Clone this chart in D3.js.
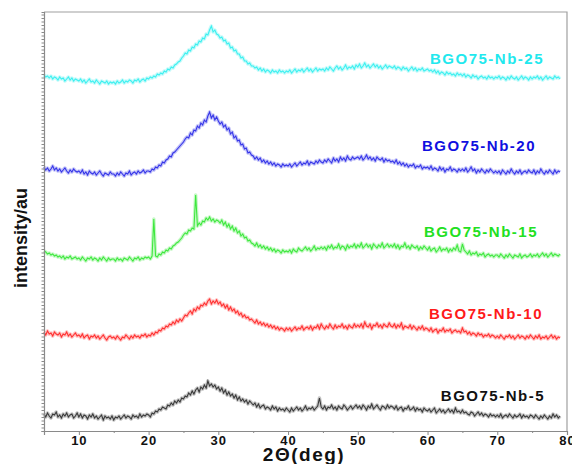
<!DOCTYPE html>
<html>
<head>
<meta charset="utf-8">
<script src="https://cdn.jsdelivr.net/npm/d3@7"></script>
<style>
  body { margin: 0; background: #fff; }
  svg { display: block; font-family: Arial, "Liberation Sans", sans-serif; }
</style>
</head>
<body>
<div id="chart"></div>
<script>
// 2θ sampling of the traces
const thetaStart = 5;
const thetaStep = 0.25;

// Intensity (a.u., above its own stacking offset)
const nb5 = [
  17,14,18,15,13,17,16,19,14,16,13,17,15,18,14,16,17,13,15,18,
  14,17,13,16,15,12,16,14,17,13,15,12,14,16,11,15,13,14,12,15,
  11,14,13,15,12,14,16,13,15,14,12,16,14,15,13,17,14,16,15,17,
  16,14,18,17,20,19,22,21,24,23,22,26,25,28,26,30,28,31,29,33,
  32,35,34,38,36,40,37,41,43,39,44,42,46,43,50,45,47,44,46,42,
  44,40,43,38,41,36,39,35,37,33,36,31,34,30,32,29,31,27,30,28,
  26,28,24,27,23,25,26,22,24,23,21,25,22,24,20,23,21,22,20,23,
  21,19,23,20,22,24,21,23,20,22,25,21,23,22,24,21,23,25,33,24,
  22,25,21,24,23,26,22,24,21,25,23,22,26,24,21,23,25,22,24,26,
  23,25,22,26,24,21,25,23,27,22,24,26,23,21,25,24,22,26,23,25,
  24,22,25,21,23,24,20,23,22,25,21,22,24,20,23,21,22,19,23,21,
  20,22,19,21,23,18,20,22,19,21,18,20,22,19,21,18,23,19,20,18,
  21,18,19,17,16,19,18,15,17,19,16,18,15,17,16,14,17,15,16,14,
  16,14,17,13,15,16,14,17,15,13,16,14,15,17,13,16,14,15,13,16,
  15,13,16,14,12,15,13,16,14,12,15,13,17,14,16,13,15
];
const nb10 = [
  19,16,20,17,18,15,19,17,16,18,14,17,16,19,15,17,14,16,18,15,
  16,14,17,13,15,16,12,15,14,16,13,15,12,14,16,13,11,14,15,13,
  14,12,15,13,11,14,13,16,14,12,15,13,16,14,15,13,16,15,17,14,
  16,15,18,16,19,18,21,20,23,22,25,24,27,26,29,27,31,29,32,30,
  33,36,35,38,40,37,42,40,44,42,46,45,48,46,50,52,47,50,48,51,
  47,49,45,47,43,46,41,44,40,42,38,40,36,38,34,36,33,34,31,32,
  30,28,31,27,29,26,28,25,27,24,26,23,25,22,24,21,23,22,20,23,
  21,23,20,22,24,21,23,22,25,21,23,24,22,25,21,24,23,26,22,27,
  24,22,25,23,27,24,22,26,23,25,24,27,23,25,22,26,24,23,27,24,
  26,24,27,23,29,25,24,27,22,26,25,28,24,26,23,27,25,24,28,25,
  24,27,23,26,24,28,22,25,24,23,26,22,25,23,21,24,22,25,21,23,
  22,20,23,19,21,22,18,21,20,23,19,21,20,22,18,20,21,19,20,18,
  23,19,20,17,19,16,18,17,15,18,16,17,14,16,15,17,14,16,15,13,
  15,13,16,14,12,15,14,16,13,15,12,14,16,13,15,14,12,15,13,16,
  14,12,15,13,16,12,14,13,15,12,14,16,13,15,12,14,13
];
const nb15 = [
  20,19,17,18,16,17,15,16,14,15,13,15,12,14,13,15,12,13,14,12,
  13,11,14,12,10,13,12,14,11,13,12,10,13,11,14,12,10,13,11,12,
  12,10,13,11,12,10,13,12,11,14,12,10,13,12,14,11,13,12,14,13,
  14,12,15,52,15,14,17,16,19,18,21,20,23,22,25,26,28,29,31,33,
  36,38,37,41,40,43,42,76,45,48,46,50,49,53,51,54,50,52,49,51,
  50,48,51,46,49,44,47,42,45,40,43,38,40,35,37,33,34,30,31,28,
  27,25,28,24,26,23,25,22,24,21,23,20,22,19,21,20,18,21,19,20,
  19,21,18,22,20,19,23,21,20,22,24,21,23,20,22,25,21,23,22,24,
  22,24,21,25,23,26,22,24,23,27,22,25,24,21,26,23,25,24,27,23,
  26,24,28,23,25,27,24,26,22,27,25,23,26,24,28,23,25,27,24,26,
  24,27,23,26,22,25,24,28,23,25,22,26,24,23,25,21,24,22,25,23,
  21,24,20,22,23,19,21,24,20,22,21,23,19,22,20,23,21,26,20,19,
  27,21,19,17,20,16,18,17,19,15,17,16,18,14,16,17,15,16,14,16,
  16,14,17,15,13,16,14,17,15,13,16,15,14,17,13,15,16,14,15,17,
  14,16,15,17,14,16,18,15,17,14,16,18,15,17,16,15,17
];
const nb20 = [
  19,16,18,15,17,20,16,18,15,17,14,16,18,15,13,16,14,17,15,14,
  15,13,16,12,14,11,15,13,12,14,11,13,15,12,10,13,12,11,14,12,
  12,10,13,11,14,12,10,13,12,15,11,13,14,12,15,13,14,16,13,15,
  15,14,17,16,19,18,21,20,24,23,26,27,30,29,33,34,36,38,40,42,
  44,47,49,48,53,51,56,55,60,58,63,61,66,64,70,74,68,71,66,69,
  65,62,64,59,61,56,58,52,54,48,50,45,46,41,42,37,38,33,34,31,
  30,27,29,26,28,24,26,23,25,22,24,21,23,20,22,21,19,22,20,21,
  20,22,19,21,23,20,22,24,21,23,22,25,21,24,23,22,25,23,26,24,
  23,26,24,27,25,23,28,25,27,24,29,26,28,25,30,27,26,29,27,28,
  29,27,30,26,28,31,27,29,26,28,25,29,27,26,28,24,27,25,26,24,
  25,23,26,22,24,21,23,20,22,19,21,20,22,18,20,19,21,17,19,18,
  19,17,20,16,18,17,15,19,16,18,14,17,16,19,15,17,16,14,17,15,
  17,15,18,14,16,19,15,17,13,16,14,17,15,13,16,14,17,15,13,15,
  13,15,12,16,14,12,15,13,17,14,12,15,13,16,12,14,15,13,16,14,
  13,16,12,15,13,17,14,12,15,13,16,14,12,16,13,15,14
];
const nb25 = [
  21,19,20,18,20,17,19,18,16,19,17,18,15,17,19,16,18,15,17,16,
  15,17,14,16,13,15,17,14,15,13,16,14,12,15,14,13,15,12,14,13,
  14,12,15,13,14,16,13,15,14,16,15,13,16,15,17,14,16,17,15,18,
  17,19,18,20,19,22,21,23,22,25,24,27,26,29,28,31,32,34,35,38,
  40,43,42,46,45,49,48,52,51,55,54,58,57,62,61,66,70,64,66,62,
  61,58,59,55,56,52,53,48,49,45,46,42,42,38,39,35,35,32,33,30,
  30,28,29,26,28,25,27,24,26,25,23,26,24,25,23,26,24,25,23,25,
  24,26,23,25,27,24,26,25,27,24,26,28,25,27,24,26,28,25,27,26,
  27,25,28,26,29,27,25,28,30,27,29,26,28,31,27,29,28,30,27,31,
  29,32,28,30,33,29,31,28,30,32,29,31,28,30,27,29,31,28,30,29,
  28,30,27,29,28,26,29,27,28,25,27,29,26,28,25,27,26,28,25,26,
  27,25,26,24,26,23,25,22,24,23,21,24,22,23,21,22,20,23,21,22,
  20,22,19,21,20,18,21,19,20,17,19,20,18,19,17,20,18,19,17,19,
  18,20,17,19,18,16,19,17,20,18,17,19,16,18,20,17,19,18,16,19,
  17,19,18,20,17,19,16,18,20,17,19,18,17,20,18,19,17
];

const seriesNames = ["BGO75-Nb-5", "BGO75-Nb-10", "BGO75-Nb-15", "BGO75-Nb-20", "BGO75-Nb-25"];
const seriesValues = [nb5, nb10, nb15, nb20, nb25];
const stackOffsets = [0, 80, 160, 245, 335];
const xTickValues = [10, 20, 30, 40, 50, 60, 70, 80];
const xMinorTicks = [5, 15, 25, 35, 45, 55, 65, 75];

const lineColors = ["#3a3a3a", "#ff3030", "#3ee83e", "#3535e8", "#3cf0f0"];
const labelColors = ["#111111", "#ff1a1a", "#22e022", "#1010e0", "#22e8ee"];
const labelPos = [
  { x: 545, y: 401 },
  { x: 543, y: 319 },
  { x: 538, y: 237 },
  { x: 536, y: 151 },
  { x: 544, y: 64 }
];

const W = 572, H = 464;
const plot = { left: 44, right: 567, top: 12, bottom: 431 };

const svg = d3.select("#chart").append("svg")
  .attr("width", W)
  .attr("height", H);

const x = d3.scaleLinear().domain([5, 80]).range([plot.left, plot.right]);
const y = d3.scaleLinear().domain([0, 419]).range([plot.bottom, plot.top]);

// Frame (top and right)
svg.append("path")
  .attr("d", `M${plot.left},${plot.top}H${plot.right}V${plot.bottom}`)
  .attr("fill", "none")
  .attr("stroke", "#a0a0a0")
  .attr("stroke-width", 1.2);

// Traces: soft halo underneath, thin line on top
const line = d3.line()
  .x((d, i) => x(thetaStart + i * thetaStep))
  .y(d => y(d));

seriesValues.forEach((vals, k) => {
  const shifted = vals.map(v => v + stackOffsets[k]);
  svg.append("path")
    .datum(shifted)
    .attr("d", line)
    .attr("fill", "none")
    .attr("stroke", lineColors[k])
    .attr("stroke-opacity", 0.3)
    .attr("stroke-width", 3.5)
    .attr("stroke-linejoin", "round");
  svg.append("path")
    .datum(shifted)
    .attr("d", line)
    .attr("fill", "none")
    .attr("stroke", lineColors[k])
    .attr("stroke-width", 1.1)
    .attr("stroke-linejoin", "miter");
});

// X axis
const gx = svg.append("g")
  .attr("transform", `translate(0,${plot.bottom})`)
  .call(d3.axisBottom(x).tickValues(xTickValues).tickSize(4).tickPadding(1));
gx.append("g")
  .call(d3.axisBottom(x).tickValues(xMinorTicks).tickSize(2).tickFormat(""))
  .select(".domain").remove();
gx.select(".domain").attr("stroke", "#8a8a8a").attr("stroke-width", 1.2);
gx.selectAll(".tick line").attr("stroke", "#8a8a8a");
gx.selectAll("text")
  .attr("fill", "#111")
  .style("font-size", "13px")
  .style("font-weight", "bold")
  .style("letter-spacing", "1px");

// Y axis (no labels, dense minor ticks)
const yTicks = d3.range(0, 420, 3.5);
const gy = svg.append("g")
  .attr("transform", `translate(${plot.left},0)`)
  .call(d3.axisLeft(y).tickValues(yTicks).tickSize(2.5).tickFormat(""));
gy.select(".domain").attr("stroke", "#8a8a8a").attr("stroke-width", 1.2);
gy.selectAll(".tick line").attr("stroke", "#8a8a8a");

// Series labels
svg.selectAll(".series-label")
  .data(seriesNames)
  .join("text")
  .attr("class", "series-label")
  .attr("x", (d, i) => labelPos[i].x)
  .attr("y", (d, i) => labelPos[i].y)
  .attr("text-anchor", "end")
  .attr("fill", (d, i) => labelColors[i])
  .style("font-size", "15px")
  .style("font-weight", "bold")
  .style("letter-spacing", "1.5px")
  .text(d => d);

// Axis titles
svg.append("text")
  .attr("x", 304)
  .attr("y", 461)
  .attr("text-anchor", "middle")
  .attr("fill", "#111")
  .style("font-size", "19px")
  .style("font-weight", "bold")
  .style("letter-spacing", "1.5px")
  .text("2Θ(deg)");

svg.append("text")
  .attr("transform", "translate(27,238) rotate(-90)")
  .attr("text-anchor", "middle")
  .attr("fill", "#111")
  .style("font-size", "18px")
  .style("font-weight", "bold")
  .text("intensity/au");
</script>
</body>
</html>
